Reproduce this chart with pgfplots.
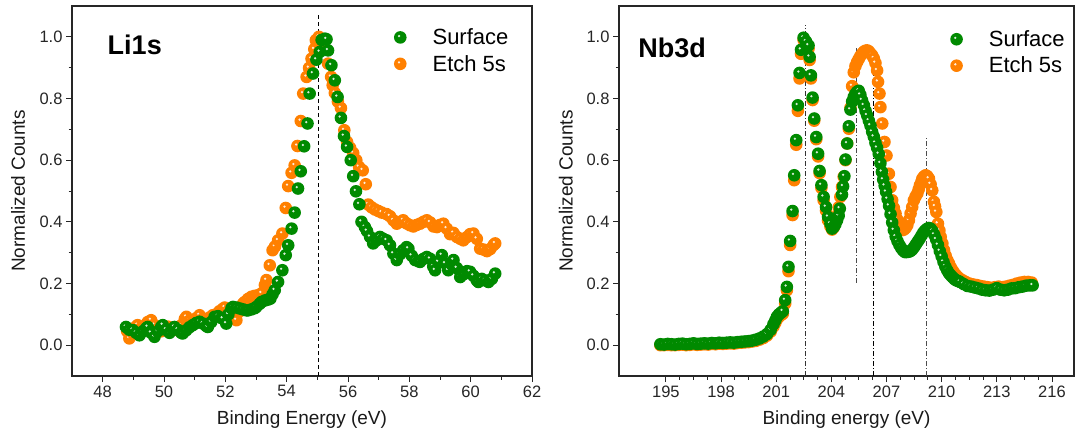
\documentclass[border=0pt]{standalone}
\usepackage{fontspec}
\setmainfont{Liberation Sans}
\usepackage{pgfplots}
\pgfplotsset{compat=1.18}
\definecolor{cgreen}{RGB}{0,138,0}
\definecolor{corange}{RGB}{255,128,0}
\pgfdeclareplotmark{sph}{%
  \pgfpathcircle{\pgfpointorigin}{\pgfplotmarksize}\pgfusepathqfill
  \begin{pgfscope}\pgfsetfillcolor{white}\pgfsetfillopacity{0.85}%
  \pgfpathcircle{\pgfpoint{-0.2\pgfplotmarksize}{0.22\pgfplotmarksize}}{0.2\pgfplotmarksize}\pgfusepathqfill\end{pgfscope}}
\pgfplotsset{
  xps/.style={
    scale only axis, height=370pt,
    ymin=-0.1, ymax=1.1,
    ytick={0,0.2,0.4,0.6,0.8,1.0}, minor y tick num=1,
    tick align=outside, xtick pos=bottom, ytick pos=left,
    major tick length=6pt, minor tick length=3.5pt,
    yticklabel style={/pgf/number format/.cd, fixed, fixed zerofill, precision=1},
    /pgf/number format/assume math mode=true,
    tick label style={font=\fontsize{16.5}{19}\selectfont, black!85},
    axis line style={line width=1.1pt, black!85},
    every tick/.style={black!85, line width=0.9pt},
    legend style={draw=none, fill=none, font=\fontsize{22}{27}\selectfont,
      anchor=north west, cells={anchor=west}, row sep=5pt,
      /tikz/every odd column/.append style={column sep=24pt}},
    reverse legend,
    ylabel={Normalized Counts},
    every axis y label/.style={at={(axis description cs:-0.117,0.5)}, rotate=90, anchor=center, font=\fontsize{19}{22}\selectfont, black!90},
    every axis x label/.style={at={(axis description cs:0.5,-0.13)}, anchor=base, font=\fontsize{19}{22}\selectfont, black!90},
  },
  gser/.style={only marks, mark=sph, mark size=6.3pt, color=cgreen, fill=cgreen},
  oser/.style={only marks, mark=sph, mark size=6.3pt, color=corange, fill=corange},
}
\begin{document}
\begin{tikzpicture}
\path[use as bounding box] (0,0) rectangle (1075pt,431pt);
% ---------------- Li1s ----------------
\begin{axis}[xps, at={(72pt,55pt)}, anchor=south west, width=460pt,
  xmin=47, xmax=62, xtick={48,50,...,62}, minor x tick num=1,
  xlabel={Binding Energy (eV)},
  legend style={at={(axis description cs:0.693,0.95)}}]
\addplot[black, line width=0.8pt, dash pattern=on 4pt off 3pt, forget plot] coordinates {(55.05,-0.1) (55.05,1.08)};
\addplot[oser] table {
48.80 0.045
48.87 0.022
48.98 0.040
49.09 0.060
49.14 0.065
49.25 0.055
49.36 0.062
49.47 0.075
49.58 0.081
49.69 0.065
49.80 0.050
49.91 0.045
50.02 0.055
50.13 0.060
50.24 0.052
50.35 0.050
50.46 0.048
50.57 0.065
50.68 0.085
50.73 0.092
50.84 0.080
50.95 0.078
51.06 0.088
51.16 0.097
51.27 0.085
51.38 0.080
51.49 0.090
51.59 0.097
51.70 0.100
51.81 0.110
51.92 0.118
51.98 0.122
52.09 0.110
52.20 0.095
52.30 0.085
52.36 0.081
52.47 0.110
52.58 0.135
52.63 0.140
52.74 0.150
52.85 0.157
52.96 0.160
53.07 0.162
53.18 0.168
53.29 0.195
53.34 0.211
53.45 0.259
53.54 0.308
53.62 0.320
53.72 0.340
53.86 0.362
53.97 0.445
54.05 0.516
54.16 0.559
54.26 0.583
54.35 0.646
54.46 0.727
54.54 0.816
54.65 0.870
54.73 0.899
54.81 0.929
54.90 0.960
54.95 0.989
55.05 1.000
55.20 0.960
55.35 0.913
55.45 0.870
55.50 0.843
55.57 0.818
55.67 0.790
55.77 0.769
55.88 0.697
55.97 0.659
56.07 0.640
56.17 0.623
56.27 0.600
56.36 0.578
56.48 0.567
56.58 0.522
56.66 0.456
56.77 0.447
56.88 0.440
56.99 0.435
57.10 0.430
57.26 0.425
57.37 0.418
57.48 0.405
57.59 0.394
57.70 0.400
57.80 0.405
57.91 0.395
58.02 0.389
58.13 0.385
58.24 0.390
58.35 0.394
58.46 0.400
58.57 0.405
58.68 0.398
58.79 0.385
58.90 0.383
59.00 0.390
59.11 0.394
59.22 0.378
59.33 0.360
59.44 0.364
59.55 0.351
59.66 0.345
59.76 0.340
59.87 0.350
59.98 0.360
60.09 0.362
60.20 0.345
60.31 0.313
60.42 0.310
60.53 0.305
60.64 0.312
60.75 0.325
60.80 0.330
};
\addlegendentry{Etch 5s}
\addplot[gser] table {
48.76 0.059
48.87 0.050
48.98 0.049
49.09 0.040
49.20 0.032
49.31 0.045
49.42 0.055
49.47 0.059
49.58 0.040
49.69 0.027
49.80 0.045
49.91 0.060
49.96 0.065
50.07 0.050
50.18 0.040
50.29 0.052
50.34 0.059
50.45 0.050
50.56 0.040
50.61 0.038
50.72 0.048
50.83 0.058
50.94 0.065
51.05 0.072
51.16 0.076
51.27 0.070
51.38 0.062
51.43 0.059
51.54 0.075
51.65 0.092
51.76 0.094
51.87 0.088
51.92 0.086
52.03 0.070
52.10 0.100
52.20 0.120
52.25 0.124
52.36 0.122
52.47 0.119
52.58 0.116
52.69 0.113
52.74 0.113
52.85 0.116
52.96 0.120
53.01 0.124
53.12 0.134
53.18 0.140
53.29 0.145
53.40 0.148
53.47 0.151
53.54 0.165
53.61 0.178
53.72 0.205
53.86 0.243
53.97 0.292
54.05 0.324
54.16 0.378
54.26 0.430
54.37 0.508
54.46 0.564
54.57 0.645
54.68 0.719
54.75 0.816
54.86 0.881
54.97 0.926
55.08 0.951
55.14 0.990
55.25 0.994
55.30 0.992
55.35 0.956
55.46 0.908
55.57 0.859
55.66 0.805
55.77 0.737
55.87 0.678
55.97 0.643
56.09 0.600
56.17 0.548
56.26 0.499
56.37 0.457
56.44 0.400
56.55 0.383
56.62 0.370
56.72 0.351
56.82 0.330
56.93 0.340
57.04 0.351
57.15 0.345
57.26 0.340
57.37 0.324
57.48 0.297
57.59 0.276
57.70 0.295
57.80 0.308
57.91 0.318
57.97 0.313
58.08 0.290
58.19 0.276
58.30 0.272
58.35 0.270
58.46 0.280
58.57 0.286
58.68 0.280
58.78 0.255
58.84 0.243
58.95 0.270
59.06 0.292
59.17 0.265
59.27 0.243
59.38 0.262
59.44 0.276
59.55 0.250
59.66 0.221
59.77 0.230
59.88 0.240
59.98 0.238
60.09 0.225
60.20 0.210
60.25 0.205
60.36 0.215
60.47 0.210
60.58 0.205
60.69 0.215
60.80 0.232
};
\addlegendentry{Surface}
\node[anchor=west, font=\bfseries\fontsize{27}{30}\selectfont] at (axis description cs:0.07,0.895) {Li1s};
\end{axis}
% ---------------- Nb3d ----------------
\begin{axis}[xps, at={(619pt,55pt)}, anchor=south west, width=455pt,
  xmin=192.45, xmax=217.2, xtick={195,198,...,216}, minor x tick num=3,
  xlabel={Binding energy (eV)},
  legend style={at={(axis description cs:0.721,0.945)}}]
\addplot[black!80, line width=0.8pt, dash pattern=on 5pt off 2pt on 1pt off 2pt, forget plot] coordinates {(202.58,-0.1) (202.58,1.037)};
\addplot[black!70, line width=0.8pt, dash pattern=on 5pt off 2pt on 1pt off 2pt, forget plot] coordinates {(205.37,0.202) (205.37,0.967)};
\addplot[black, line width=0.8pt, dash pattern=on 5pt off 2pt on 1pt off 2pt, forget plot] coordinates {(206.31,-0.1) (206.31,0.95)};
\addplot[black!70, line width=0.8pt, dash pattern=on 5pt off 2pt on 1pt off 2pt, forget plot] coordinates {(209.17,-0.1) (209.17,0.675)};
\addplot[oser] table {
194.7 0.000
194.9 0.000
195.1 0.001
195.3 0.000
195.5 0.000
195.7 0.001
195.9 0.002
196.1 0.000
196.3 0.001
196.5 0.003
196.7 0.001
196.9 0.002
197.1 0.003
197.3 0.002
197.5 0.004
197.7 0.003
197.9 0.005
198.1 0.004
198.3 0.005
198.5 0.006
198.7 0.005
198.9 0.007
199.1 0.008
199.3 0.009
199.5 0.010
199.7 0.012
199.9 0.014
200.1 0.018
200.3 0.023
200.5 0.031
200.7 0.044
200.85 0.060
200.95 0.072
201.04 0.084
201.15 0.092
201.27 0.098
201.36 0.102
201.49 0.135
201.58 0.178
201.67 0.240
201.76 0.325
201.89 0.422
201.98 0.535
202.09 0.650
202.18 0.760
202.27 0.865
202.35 0.945
202.49 0.990
202.62 0.978
202.76 0.962
202.82 0.925
202.89 0.865
202.98 0.795
203.07 0.728
203.18 0.668
203.28 0.612
203.36 0.558
203.46 0.510
203.58 0.470
203.71 0.436
203.82 0.405
203.95 0.385
204.04 0.375
204.13 0.382
204.22 0.398
204.31 0.420
204.40 0.447
204.49 0.481
204.58 0.513
204.67 0.546
204.77 0.600
204.86 0.654
204.95 0.702
205.04 0.770
205.13 0.840
205.22 0.885
205.31 0.905
205.40 0.918
205.49 0.928
205.58 0.938
205.68 0.946
205.77 0.952
205.86 0.955
205.95 0.956
206.04 0.953
206.13 0.946
206.22 0.940
206.31 0.930
206.40 0.915
206.49 0.891
206.54 0.854
206.62 0.816
206.67 0.772
206.77 0.719
206.89 0.659
207.00 0.615
207.13 0.556
207.22 0.513
207.31 0.470
207.40 0.445
207.49 0.427
207.58 0.408
207.67 0.394
207.76 0.382
207.86 0.373
207.95 0.375
208.04 0.380
208.13 0.389
208.22 0.405
208.31 0.427
208.40 0.448
208.49 0.470
208.58 0.482
208.68 0.492
208.75 0.505
208.82 0.519
208.90 0.530
208.95 0.540
209.04 0.547
209.13 0.551
209.22 0.548
209.31 0.540
209.40 0.522
209.49 0.502
209.58 0.465
209.64 0.450
209.71 0.432
209.80 0.394
209.88 0.372
209.95 0.351
210.04 0.330
210.13 0.308
210.22 0.290
210.31 0.276
210.40 0.265
210.50 0.252
210.60 0.242
210.70 0.233
210.80 0.226
210.90 0.220
211.00 0.215
211.15 0.210
211.31 0.205
211.50 0.200
211.70 0.197
211.90 0.195
212.10 0.192
212.30 0.190
212.50 0.188
212.70 0.186
212.90 0.188
213.10 0.190
213.30 0.188
213.50 0.190
213.70 0.193
213.90 0.196
214.10 0.200
214.30 0.203
214.50 0.205
214.70 0.205
214.90 0.203
};
\addlegendentry{Etch 5s}
\addplot[gser] table {
194.7 0.003
194.9 0.002
195.1 0.004
195.3 0.003
195.5 0.002
195.7 0.004
195.9 0.005
196.1 0.003
196.3 0.004
196.5 0.006
196.7 0.004
196.9 0.005
197.1 0.006
197.3 0.005
197.5 0.007
197.7 0.006
197.9 0.008
198.1 0.007
198.3 0.008
198.5 0.009
198.7 0.008
198.9 0.010
199.1 0.011
199.3 0.012
199.5 0.013
199.7 0.015
199.9 0.018
200.1 0.022
200.3 0.028
200.5 0.036
200.7 0.050
200.85 0.068
200.95 0.080
201.04 0.092
201.15 0.100
201.27 0.106
201.36 0.110
201.49 0.146
201.58 0.189
201.67 0.254
201.76 0.338
201.89 0.435
201.98 0.551
202.09 0.665
202.18 0.778
202.27 0.883
202.35 0.958
202.49 0.997
202.62 0.985
202.76 0.972
202.82 0.935
202.89 0.875
202.98 0.803
203.07 0.735
203.18 0.675
203.28 0.621
203.36 0.565
203.46 0.519
203.58 0.481
203.71 0.448
203.82 0.416
203.95 0.394
204.04 0.378
204.13 0.383
204.22 0.392
204.31 0.405
204.40 0.420
204.46 0.443
204.58 0.488
204.64 0.515
204.71 0.548
204.77 0.602
204.86 0.654
204.95 0.710
205.04 0.764
205.13 0.790
205.22 0.805
205.31 0.815
205.40 0.822
205.49 0.825
205.58 0.812
205.67 0.794
205.77 0.778
205.86 0.760
205.95 0.745
206.04 0.728
206.13 0.712
206.22 0.692
206.31 0.676
206.40 0.656
206.49 0.640
206.58 0.620
206.67 0.590
206.75 0.562
206.82 0.537
206.90 0.517
206.98 0.497
207.06 0.474
207.14 0.452
207.22 0.425
207.31 0.398
207.40 0.373
207.50 0.352
207.60 0.337
207.70 0.325
207.80 0.315
207.90 0.307
208.00 0.302
208.10 0.302
208.20 0.303
208.30 0.305
208.40 0.310
208.50 0.318
208.60 0.327
208.70 0.336
208.80 0.345
208.90 0.355
209.00 0.365
209.10 0.372
209.20 0.377
209.30 0.380
209.40 0.378
209.50 0.370
209.60 0.358
209.70 0.343
209.80 0.325
209.90 0.305
210.00 0.288
210.10 0.270
210.20 0.255
210.30 0.243
210.40 0.233
210.50 0.226
210.60 0.220
210.70 0.214
210.80 0.210
210.90 0.208
211.00 0.205
211.20 0.198
211.40 0.192
211.60 0.190
211.80 0.187
212.00 0.184
212.20 0.180
212.40 0.178
212.60 0.177
212.80 0.180
213.00 0.185
213.20 0.180
213.40 0.178
213.60 0.180
213.80 0.184
214.00 0.185
214.20 0.188
214.40 0.190
214.60 0.193
214.80 0.194
214.95 0.194
};
\addlegendentry{Surface}
\node[anchor=west, font=\bfseries\fontsize{27}{30}\selectfont] at (axis description cs:0.035,0.886) {Nb3d};
\end{axis}
\end{tikzpicture}
\end{document}
